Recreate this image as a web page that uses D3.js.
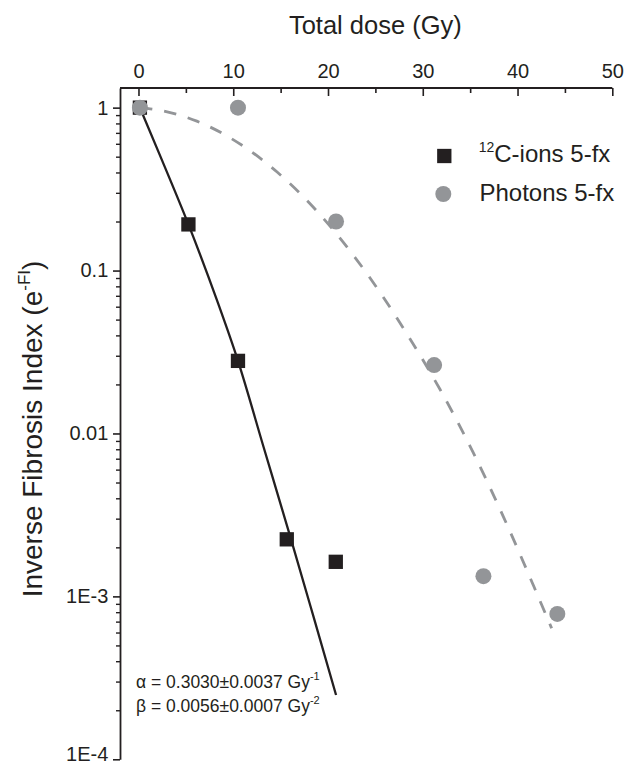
<!DOCTYPE html>
<html>
<head>
<meta charset="utf-8">
<script src="https://cdn.jsdelivr.net/npm/d3@7"></script>
<style>
  html, body { margin: 0; padding: 0; background: #fff; }
  svg { display: block; font-family: "Liberation Sans", Arial, sans-serif; }
</style>
</head>
<body>
<svg id="chart" width="642" height="765"></svg>
<script>
// ---------- data ----------
const xTickValues = [0, 10, 20, 30, 40, 50];
const xMinorTicks = [5, 15, 25, 35, 45];
const yTickValues = [1e-4, 1e-3, 1e-2, 1e-1, 1];
const yTickLabels = ["1E-4", "1E-3", "0.01", "0.1", "1"];
const yMinorTicks = [2,3,4,5,6,7,8,9].flatMap(m => [1e-4, 1e-3, 1e-2, 1e-1].map(d => m * d));

const cIonDose  = [0.15, 5.27, 10.5, 15.65, 20.82];
const cIonValue = [1, 0.192, 0.0279, 0.00224, 0.00163];

const photonDose  = [0.15, 10.5, 20.85, 31.2, 36.4, 44.2];
const photonValue = [1, 1, 0.2, 0.0263, 0.00133, 0.00078];

const cFitDose  = [0.15, 2.5, 5.27, 8.27, 10.5, 13.2, 16.1, 18.5, 20.85];
const cFitValue = [1, 0.473, 0.192, 0.066, 0.0279, 0.00826, 0.00224, 0.00074, 0.000248];

const pFitDose  = [0.15, 2.64, 6.16, 9.67, 14.6, 18.82, 22.68, 25.68, 28.66, 31.83, 35.34, 38.5, 41.67, 43.6];
const pFitValue = [1, 0.953, 0.826, 0.653, 0.404, 0.232, 0.124, 0.0708, 0.038, 0.0186, 0.00759, 0.00309, 0.00117, 0.000637];

const legendLabels = ["C-ions 5-fx", "Photons 5-fx"];

// ---------- setup ----------
const BLACK = "#231f20", GRAY = "#939598";
const svg = d3.select("#chart");

const x = d3.scaleLinear().domain([-1.95, 50]).range([120, 612.3]);
const y = d3.scaleLog().domain([1e-4, 1.32]).range([759.3, 88]);

// ---------- axes ----------
const xAxis = svg.append("g").attr("transform", `translate(0,${y.range()[1]})`)
  .call(d3.axisTop(x).tickValues(xTickValues).tickSize(-8).tickSizeOuter(0).tickPadding(10.5).tickFormat(d3.format("d")));
xAxis.select(".domain").remove();
xAxis.selectAll(".tick line").attr("stroke", BLACK).attr("stroke-width", 1.6);
xAxis.selectAll("text").attr("font-size", 20).attr("fill", BLACK).attr("font-family", null);
svg.append("g").attr("transform", `translate(0,${y.range()[1]})`)
  .call(d3.axisTop(x).tickValues(xMinorTicks).tickSize(-5).tickFormat(""))
  .call(g => g.select(".domain").remove())
  .selectAll(".tick line").attr("stroke", BLACK).attr("stroke-width", 1.6);

svg.append("line")
  .attr("x1", x.range()[0]).attr("x2", x(50))
  .attr("y1", y.range()[1]).attr("y2", y.range()[1])
  .attr("stroke", BLACK).attr("stroke-width", 1.8);

const yAxis = svg.append("g").attr("transform", `translate(${x.range()[0]},0)`)
  .call(d3.axisLeft(y).tickValues(yTickValues).tickSize(7).tickSizeOuter(0).tickPadding(4.7)
    .tickFormat((d, i) => yTickLabels[i]));
yAxis.select(".domain").attr("stroke", BLACK).attr("stroke-width", 1.8);
yAxis.selectAll(".tick line").attr("stroke", BLACK).attr("stroke-width", 1.6);
yAxis.selectAll("text").attr("font-size", 20).attr("fill", BLACK).attr("font-family", null)
  .attr("dy", d => d === 1e-4 ? "0.04em" : "0.32em");
svg.append("g").attr("transform", `translate(${x.range()[0]},0)`)
  .call(d3.axisLeft(y).tickValues(yMinorTicks).tickSize(4).tickFormat(""))
  .call(g => g.select(".domain").remove())
  .selectAll(".tick line").attr("stroke", BLACK).attr("stroke-width", 1.4);

// ---------- titles ----------
svg.append("text")
  .attr("x", (x(0) + x(50)) / 2).attr("y", 34.3)
  .attr("text-anchor", "middle").attr("font-size", 25.5).attr("fill", BLACK)
  .text("Total dose (Gy)");

const yl = svg.append("text")
  .attr("transform", "translate(42,429) rotate(-90)")
  .attr("text-anchor", "middle").attr("font-size", 28).attr("fill", BLACK);
yl.append("tspan").text("Inverse Fibrosis Index (e");
yl.append("tspan").attr("font-size", 17).attr("dy", -12).text("-FI");
yl.append("tspan").attr("dy", 12).text(")");

// ---------- fit lines ----------
const line = d3.line().x(d => x(d[0])).y(d => y(d[1])).curve(d3.curveMonotoneX);
svg.append("path")
  .datum(pFitDose.map((d, i) => [d, pFitValue[i]]))
  .attr("d", line).attr("fill", "none").attr("stroke", GRAY)
  .attr("stroke-width", 2.8).attr("stroke-dasharray", "12.5,12");
svg.append("path")
  .datum(cFitDose.map((d, i) => [d, cFitValue[i]]))
  .attr("d", line).attr("fill", "none").attr("stroke", BLACK).attr("stroke-width", 2.3);

// ---------- markers ----------
const S = 14.3, R = 8;
svg.append("g").selectAll("rect").data(cIonDose.map((d, i) => [d, cIonValue[i]])).join("rect")
  .attr("x", d => x(d[0]) - S / 2).attr("y", d => y(d[1]) - S / 2)
  .attr("width", S).attr("height", S).attr("fill", BLACK);
svg.append("g").selectAll("circle").data(photonDose.map((d, i) => [d, photonValue[i]])).join("circle")
  .attr("cx", d => x(d[0])).attr("cy", d => y(d[1])).attr("r", R).attr("fill", GRAY);

// ---------- legend ----------
svg.append("rect").attr("x", 444.3 - S / 2).attr("y", 156 - S / 2).attr("width", S).attr("height", S).attr("fill", BLACK);
svg.append("circle").attr("cx", 443.3).attr("cy", 194).attr("r", R).attr("fill", GRAY);
const l1 = svg.append("text").attr("x", 478.7).attr("y", 162.3).attr("font-size", 24).attr("fill", BLACK);
l1.append("tspan").attr("font-size", 14).attr("dy", -10).text("12");
l1.append("tspan").attr("dy", 10).text(legendLabels[0]);
svg.append("text").attr("x", 479.5).attr("y", 201).attr("font-size", 24).attr("fill", BLACK).text(legendLabels[1]);

// ---------- annotation ----------
const a1 = svg.append("text").attr("x", 136).attr("y", 687.7).attr("font-size", 17.5).attr("fill", BLACK);
a1.append("tspan").text("α = 0.3030±0.0037 Gy");
a1.append("tspan").attr("font-size", 11).attr("dy", -8).text("-1");
const a2 = svg.append("text").attr("x", 136).attr("y", 712.3).attr("font-size", 17.5).attr("fill", BLACK);
a2.append("tspan").text("β = 0.0056±0.0007 Gy");
a2.append("tspan").attr("font-size", 11).attr("dy", -8).text("-2");
</script>
</body>
</html>
